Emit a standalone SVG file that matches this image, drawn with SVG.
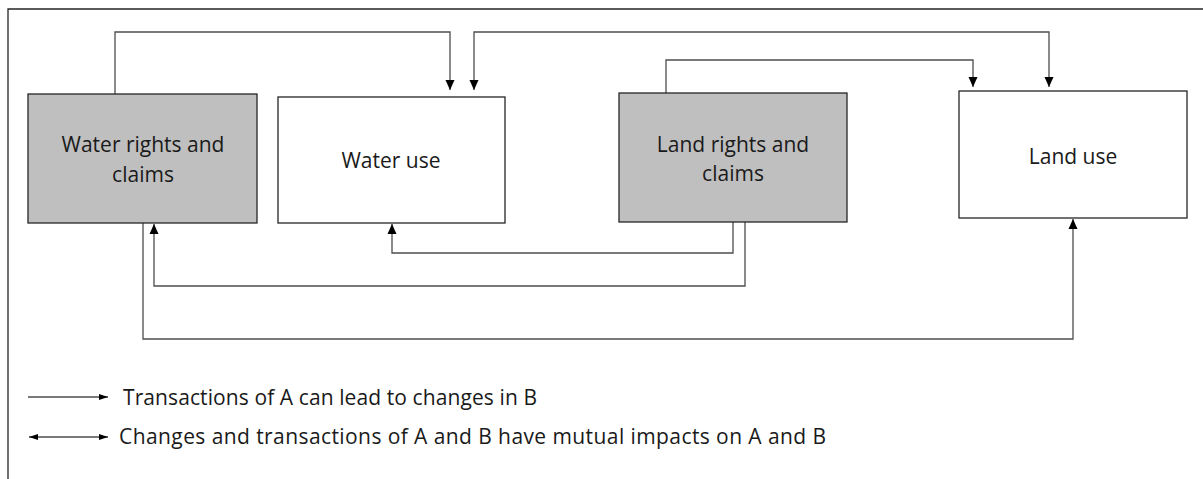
<svg xmlns="http://www.w3.org/2000/svg" width="1203" height="479" viewBox="0 0 1203 479">
<style>
.box{stroke:#262626;stroke-width:1.3}
.rights{fill:#bfbfbf}
.use{fill:#ffffff}
.lbl{font-family:"Open Sans","Liberation Sans",sans-serif;font-size:21px;fill:#1a1a1a;text-anchor:middle}
.leg{font-family:"Open Sans","Liberation Sans",sans-serif;font-size:21px;fill:#1a1a1a}
.con{fill:none;stroke:#4d4d4d;stroke-width:1.3}
.frame{fill:none;stroke:#262626;stroke-width:1.3}
</style>
<defs>
<marker id="ah" markerUnits="userSpaceOnUse" markerWidth="10" markerHeight="10" viewBox="0 0 10 10" refX="10" refY="5" orient="auto-start-reverse">
<path d="M0,0.5 L10,5 L0,9.5 Z" fill="#000"/>
</marker>
<marker id="ahs" markerUnits="userSpaceOnUse" markerWidth="9" markerHeight="7" viewBox="0 0 9 7" refX="9" refY="3.5" orient="auto-start-reverse">
<path d="M0,0.5 L9,3.5 L0,6.5 Z" fill="#000"/>
</marker>
</defs>
<rect width="1203" height="479" fill="#fff"/>
<path class="frame" d="M8,479 V9 H1203"/>
<g id="connectors">
<path class="con" d="M115,94 V32 H450 V90" marker-end="url(#ah)"/>
<path class="con" d="M474,90 V32 H1049 V87" marker-start="url(#ah)" marker-end="url(#ah)"/>
<path class="con" d="M666,93 V60 H973 V87" marker-end="url(#ah)"/>
<path class="con" d="M733,222 V253 H392 V224" marker-end="url(#ah)"/>
<path class="con" d="M745,222 V286 H154 V224" marker-end="url(#ah)"/>
<path class="con" d="M143,223 V339 H1073 V219" marker-end="url(#ah)"/>
</g>
<g id="water-rights">
<rect class="box rights" x="28" y="94" width="229" height="129"/>
<text class="lbl" x="143" y="152">Water rights and</text>
<text class="lbl" x="143" y="182">claims</text>
</g>
<g id="water-use">
<rect class="box use" x="278" y="97" width="227" height="126"/>
<text class="lbl" x="391" y="168">Water use</text>
</g>
<g id="land-rights">
<rect class="box rights" x="619" y="93" width="228" height="129"/>
<text class="lbl" x="733" y="152">Land rights and</text>
<text class="lbl" x="733" y="181">claims</text>
</g>
<g id="land-use">
<rect class="box use" x="959" y="91" width="228" height="127"/>
<text class="lbl" x="1073" y="164">Land use</text>
</g>
<g id="legend">
<path class="con" d="M28,397 H108" stroke="#000" marker-end="url(#ahs)"/>
<text class="leg" x="123" y="405" textLength="414">Transactions of A can lead to changes in B</text>
<path class="con" d="M29,437 H108" marker-start="url(#ahs)" marker-end="url(#ahs)"/>
<text class="leg" x="119" y="444" textLength="707">Changes and transactions of A and B have mutual impacts on A and B</text>
</g>
</svg>
